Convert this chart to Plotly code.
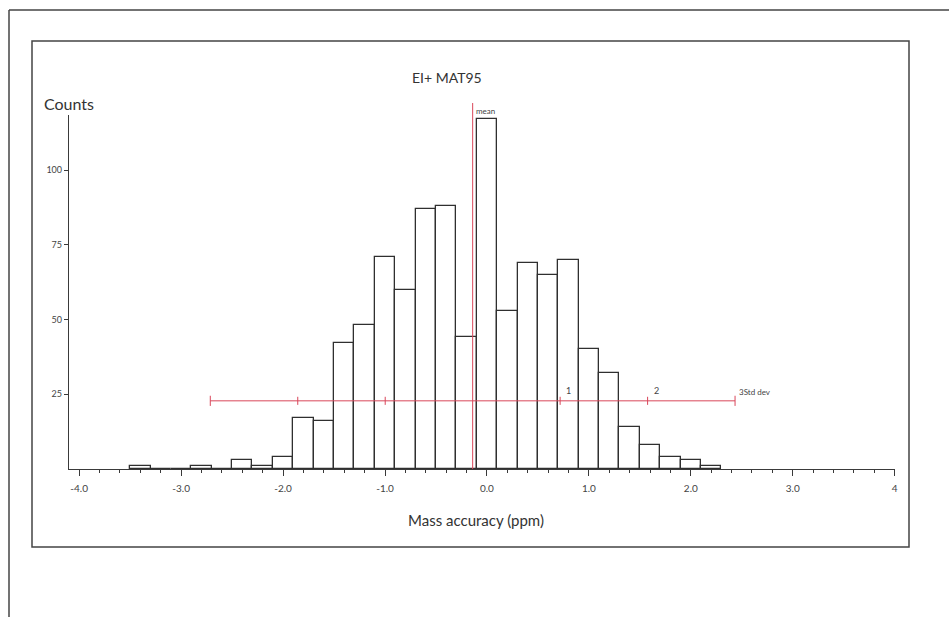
import plotly.graph_objects as go

# Histogram of mass accuracy (bin centres every 0.2 ppm) and counts per bin
bin_centres = [-3.4, -3.2, -3.0, -2.8, -2.6, -2.4, -2.2, -2.0, -1.8, -1.6, -1.4, -1.2,
               -1.0, -0.8, -0.6, -0.4, -0.2, 0.0, 0.2, 0.4, 0.6, 0.8, 1.0, 1.2,
               1.4, 1.6, 1.8, 2.0, 2.2]
counts = [1, 0, 0, 1, 0, 3, 1, 4, 17, 16, 42, 48,
          71, 60, 87, 88, 44, 117, 53, 69, 65, 70, 40, 32,
          14, 8, 4, 3, 1]
bin_width = 0.2

# Summary statistics drawn over the histogram
mean_ppm = -0.14
std_ppm = 0.858
std_bar_level = 22.8

x_tick_vals = [-4, -3, -2, -1, 0, 1, 2, 3, 4]
x_tick_text = ["-4.0", "-3.0", "-2.0", "-1.0", "0.0", "1.0", "2.0", "3.0", "4"]
y_tick_vals = [25, 50, 75, 100]

# Page geometry (pixels)
WIDTH, HEIGHT = 949, 617
L, R, T, B = 69, 895, 115, 469
PW, PH = R - L, B - T


def px(x):
    return (x - L) / PW


def py(y):
    return (B - y) / PH


FONT = "Lato, 'Open Sans', sans-serif"
INK = "#3a3a3a"
RED = "#d9465a"

fig = go.Figure()
fig.add_trace(go.Bar(
    x=bin_centres, y=counts, width=bin_width,
    marker=dict(color="white", line=dict(color="#2f2f2f", width=1.3)),
    hoverinfo="x+y", showlegend=False,
))

shapes = []
# outer and inner frames
shapes.append(dict(type="line", xref="paper", yref="paper",
                   x0=px(9), y0=py(640), x1=px(9), y1=py(10),
                   line=dict(color="#444", width=1.5)))
shapes.append(dict(type="line", xref="paper", yref="paper",
                   x0=px(9), y0=py(10), x1=px(960), y1=py(10),
                   line=dict(color="#444", width=1.5)))
shapes.append(dict(type="rect", xref="paper", yref="paper",
                   x0=px(32), y0=py(547), x1=px(909), y1=py(41),
                   line=dict(color="#444", width=1.5)))
# mean line
shapes.append(dict(type="line", xref="x", yref="paper",
                   x0=mean_ppm, x1=mean_ppm, y0=0, y1=py(103),
                   line=dict(color=RED, width=1)))
# standard deviation bar with ticks at each multiple
lo, hi = mean_ppm - 3 * std_ppm, mean_ppm + 3 * std_ppm
shapes.append(dict(type="line", xref="x", yref="y",
                   x0=lo, x1=hi, y0=std_bar_level, y1=std_bar_level,
                   line=dict(color=RED, width=1)))
for k in (-3, -2, -1, 1, 2, 3):
    half = 1.7 if abs(k) == 3 else 1.35
    xk = mean_ppm + k * std_ppm
    shapes.append(dict(type="line", xref="x", yref="y",
                       x0=xk, x1=xk, y0=std_bar_level - half, y1=std_bar_level + half,
                       line=dict(color=RED, width=1)))


def note(text, x, y, size, xanchor="center", **kw):
    return dict(text=text, x=x, y=y, xanchor=xanchor, yanchor="middle",
                showarrow=False, font=dict(family=FONT, size=size,
                                           color=kw.pop("color", "#333")), **kw)


annotations = [
    note("EI+ MAT95", px(447), py(77), 14, xref="paper", yref="paper"),
    note("Counts", px(42), py(103), 16, xanchor="left", xref="paper", yref="paper"),
    note("Mass accuracy (ppm)", px(476), py(520), 15, xref="paper", yref="paper"),
    note("mean", mean_ppm, py(111), 8, xanchor="left", xshift=1,
         xref="x", yref="paper", color="#444"),
    note("1", mean_ppm + std_ppm, std_bar_level, 9, xanchor="left",
         xshift=4, yshift=10, xref="x", yref="y", color="#444"),
    note("2", mean_ppm + 2 * std_ppm, std_bar_level, 9, xanchor="left",
         xshift=4, yshift=10, xref="x", yref="y", color="#444"),
    note("3Std dev", hi, std_bar_level, 8, xanchor="left",
         xshift=2, yshift=9, xref="x", yref="y", color="#444"),
]

fig.update_layout(
    width=WIDTH, height=HEIGHT,
    margin=dict(l=L, r=WIDTH - R, t=T, b=HEIGHT - B, pad=0),
    paper_bgcolor="white", plot_bgcolor="white",
    bargap=0, showlegend=False,
    shapes=shapes, annotations=annotations,
    xaxis=dict(range=[-4.1, 4.003], tickmode="array", tickvals=x_tick_vals,
               ticktext=x_tick_text, ticks="outside", ticklen=6, tickwidth=1,
               tickcolor=INK, showline=True, linecolor=INK, linewidth=1.3,
               showgrid=False, zeroline=False, ticklabelstandoff=4,
               minor=dict(dtick=0.2, tick0=0, ticks="outside", ticklen=3,
                          tickcolor=INK, showgrid=False),
               tickfont=dict(family=FONT, size=10, color="#444")),
    yaxis=dict(range=[0, 118.4], tickmode="array", tickvals=y_tick_vals,
               ticks="outside", ticklen=4, tickwidth=1, tickcolor=INK,
               showline=True, linecolor=INK, linewidth=1.3,
               showgrid=False, zeroline=False,
               tickfont=dict(family=FONT, size=9, color="#444")),
)

fig.write_html("out.html")
